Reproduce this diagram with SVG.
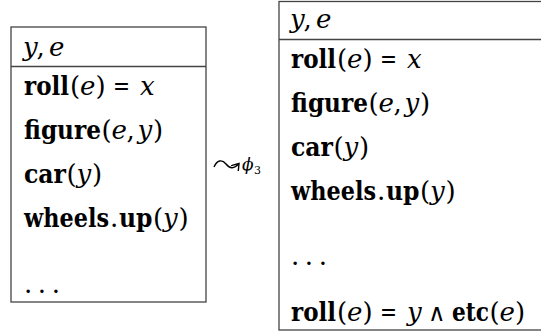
<svg xmlns="http://www.w3.org/2000/svg" width="541" height="333" viewBox="0 0 541 333">
<style>
.box{fill:#fff;stroke:#444;stroke-width:1.3}
.sep{stroke:#444;stroke-width:1.3}
.arr{fill:none;stroke:#000;stroke-width:1.4}
</style>
<defs>
<marker id="ah" markerWidth="10" markerHeight="10" refX="7" refY="4.5" orient="auto" markerUnits="userSpaceOnUse"><path d="M0,0 L7,4.5 L1,9" fill="none" stroke="#000" stroke-width="1.4"/></marker>
</defs>
<rect width="541" height="333" fill="#fff"/>
<g id="left-box">
<rect class="box" x="11" y="27" width="195" height="275"/>
<line class="sep" x1="11" y1="66.5" x2="206" y2="66.5"/>
<text x="23" y="56" font-family="DejaVu Serif" font-size="26" font-style="italic">y</text>
<text x="36.5" y="56" font-family="DejaVu Serif" font-size="26">,</text>
<text x="49" y="56" font-family="DejaVu Serif" font-size="26" font-style="italic">e</text>
<text x="24" y="95" font-family="DejaVu Serif" font-size="26" font-weight="bold" textLength="45" lengthAdjust="spacingAndGlyphs">roll</text>
<text x="70" y="95" font-family="DejaVu Serif" font-size="26">(</text>
<text x="80" y="95" font-family="DejaVu Serif" font-size="26" font-style="italic">e</text>
<text x="95.5" y="95" font-family="DejaVu Serif" font-size="26">)</text>
<text x="113" y="95" font-family="DejaVu Serif" font-size="26" textLength="17" lengthAdjust="spacingAndGlyphs">=</text>
<text x="140" y="95" font-family="DejaVu Serif" font-size="26" font-style="italic">x</text>
<text x="24" y="139" font-family="DejaVu Serif" font-size="26" font-weight="bold" textLength="77" lengthAdjust="spacingAndGlyphs">figure</text>
<text x="101.5" y="139" font-family="DejaVu Serif" font-size="26">(</text>
<text x="111.5" y="139" font-family="DejaVu Serif" font-size="26" font-style="italic">e</text>
<text x="126.5" y="139" font-family="DejaVu Serif" font-size="26">,</text>
<text x="137.5" y="139" font-family="DejaVu Serif" font-size="26" font-style="italic">y</text>
<text x="153" y="139" font-family="DejaVu Serif" font-size="26">)</text>
<text x="24" y="183" font-family="DejaVu Serif" font-size="26" font-weight="bold" textLength="42" lengthAdjust="spacingAndGlyphs">car</text>
<text x="66.5" y="183" font-family="DejaVu Serif" font-size="26">(</text>
<text x="76.5" y="183" font-family="DejaVu Serif" font-size="26" font-style="italic">y</text>
<text x="92" y="183" font-family="DejaVu Serif" font-size="26">)</text>
<text x="24" y="227" font-family="DejaVu Serif" font-size="26" font-weight="bold" textLength="85" lengthAdjust="spacingAndGlyphs">wheels</text>
<text x="110" y="227" font-family="DejaVu Serif" font-size="26">.</text>
<text x="119" y="227" font-family="DejaVu Serif" font-size="26" font-weight="bold" textLength="33.5" lengthAdjust="spacingAndGlyphs">up</text>
<text x="153" y="227" font-family="DejaVu Serif" font-size="26">(</text>
<text x="163" y="227" font-family="DejaVu Serif" font-size="26" font-style="italic">y</text>
<text x="178.5" y="227" font-family="DejaVu Serif" font-size="26">)</text>
<text x="24" y="293" font-family="DejaVu Serif" font-size="26" textLength="36" lengthAdjust="spacing">. . .</text>
</g>
<g id="connectors">
<path class="arr" d="M214,167 C217,160 222,159 226,164 S234,169 239,163.5" marker-end="url(#ah)"/>
<text x="242" y="170" font-family="DejaVu Serif" font-size="17" font-style="italic">ϕ</text>
<text x="254" y="174" font-family="DejaVu Serif" font-size="11">3</text>
</g>
<g id="right-box">
<rect class="box" x="279" y="1.5" width="280" height="328.5"/>
<line class="sep" x1="279" y1="39.5" x2="541" y2="39.5"/>
<text x="290" y="28" font-family="DejaVu Serif" font-size="26" font-style="italic">y</text>
<text x="303.5" y="28" font-family="DejaVu Serif" font-size="26">,</text>
<text x="316" y="28" font-family="DejaVu Serif" font-size="26" font-style="italic">e</text>
<text x="291" y="68" font-family="DejaVu Serif" font-size="26" font-weight="bold" textLength="45" lengthAdjust="spacingAndGlyphs">roll</text>
<text x="337" y="68" font-family="DejaVu Serif" font-size="26">(</text>
<text x="347" y="68" font-family="DejaVu Serif" font-size="26" font-style="italic">e</text>
<text x="362.5" y="68" font-family="DejaVu Serif" font-size="26">)</text>
<text x="380" y="68" font-family="DejaVu Serif" font-size="26" textLength="17" lengthAdjust="spacingAndGlyphs">=</text>
<text x="407" y="68" font-family="DejaVu Serif" font-size="26" font-style="italic">x</text>
<text x="291" y="112" font-family="DejaVu Serif" font-size="26" font-weight="bold" textLength="77" lengthAdjust="spacingAndGlyphs">figure</text>
<text x="368.5" y="112" font-family="DejaVu Serif" font-size="26">(</text>
<text x="378.5" y="112" font-family="DejaVu Serif" font-size="26" font-style="italic">e</text>
<text x="393.5" y="112" font-family="DejaVu Serif" font-size="26">,</text>
<text x="404.5" y="112" font-family="DejaVu Serif" font-size="26" font-style="italic">y</text>
<text x="420" y="112" font-family="DejaVu Serif" font-size="26">)</text>
<text x="291" y="156" font-family="DejaVu Serif" font-size="26" font-weight="bold" textLength="42" lengthAdjust="spacingAndGlyphs">car</text>
<text x="333.5" y="156" font-family="DejaVu Serif" font-size="26">(</text>
<text x="343.5" y="156" font-family="DejaVu Serif" font-size="26" font-style="italic">y</text>
<text x="359" y="156" font-family="DejaVu Serif" font-size="26">)</text>
<text x="291" y="200" font-family="DejaVu Serif" font-size="26" font-weight="bold" textLength="85" lengthAdjust="spacingAndGlyphs">wheels</text>
<text x="377" y="200" font-family="DejaVu Serif" font-size="26">.</text>
<text x="386" y="200" font-family="DejaVu Serif" font-size="26" font-weight="bold" textLength="33.5" lengthAdjust="spacingAndGlyphs">up</text>
<text x="420" y="200" font-family="DejaVu Serif" font-size="26">(</text>
<text x="430" y="200" font-family="DejaVu Serif" font-size="26" font-style="italic">y</text>
<text x="445.5" y="200" font-family="DejaVu Serif" font-size="26">)</text>
<text x="291" y="265" font-family="DejaVu Serif" font-size="26" textLength="36" lengthAdjust="spacing">. . .</text>
<text x="291" y="321" font-family="DejaVu Serif" font-size="26" font-weight="bold" textLength="45" lengthAdjust="spacingAndGlyphs">roll</text>
<text x="337" y="321" font-family="DejaVu Serif" font-size="26">(</text>
<text x="347" y="321" font-family="DejaVu Serif" font-size="26" font-style="italic">e</text>
<text x="362.5" y="321" font-family="DejaVu Serif" font-size="26">)</text>
<text x="380" y="321" font-family="DejaVu Serif" font-size="26" textLength="17" lengthAdjust="spacingAndGlyphs">=</text>
<text x="407" y="321" font-family="DejaVu Serif" font-size="26" font-style="italic">y</text>
<text x="428" y="321" font-family="DejaVu Serif" font-size="24">∧</text>
<text x="452" y="321" font-family="DejaVu Serif" font-size="26" font-weight="bold" textLength="37" lengthAdjust="spacingAndGlyphs">etc</text>
<text x="489.5" y="321" font-family="DejaVu Serif" font-size="26">(</text>
<text x="499.5" y="321" font-family="DejaVu Serif" font-size="26" font-style="italic">e</text>
<text x="515" y="321" font-family="DejaVu Serif" font-size="26">)</text>
</g>
</svg>
